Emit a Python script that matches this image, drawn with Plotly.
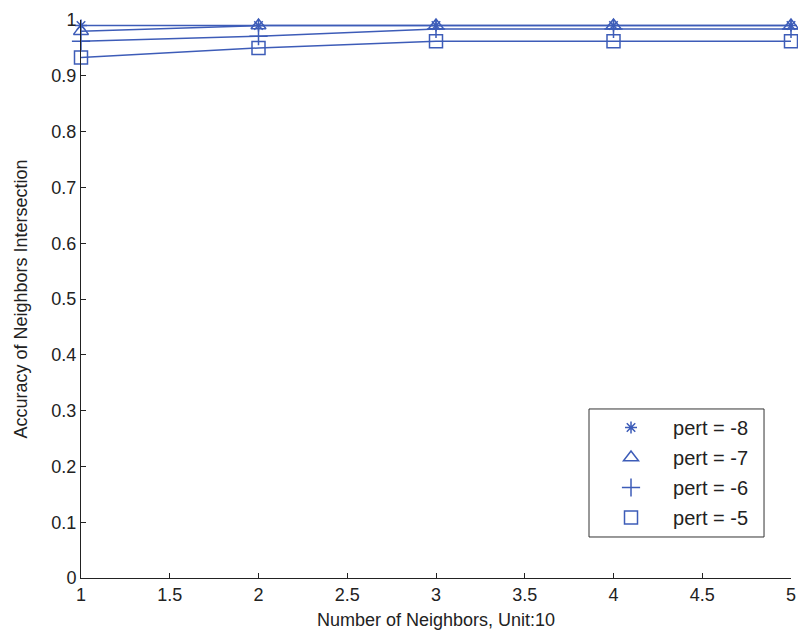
import plotly.graph_objects as go

neighbors = [1, 2, 3, 4, 5]
pert_m8 = [0.99, 0.99, 0.99, 0.99, 0.99]
pert_m7 = [0.98, 0.99, 0.99, 0.99, 0.99]
pert_m6 = [0.962, 0.971, 0.984, 0.984, 0.984]
pert_m5 = [0.933, 0.95, 0.962, 0.962, 0.962]

names = ["pert = -8", "pert = -7", "pert = -6", "pert = -5"]
series = [pert_m8, pert_m7, pert_m6, pert_m5]
symbols = ["asterisk-open", "triangle-up-open", "cross-thin-open", "square-open"]
sizes = [10, 13, 13, 13]

x_ticks = [1, 1.5, 2, 2.5, 3, 3.5, 4, 4.5, 5]
x_ticklabels = ["1", "1.5", "2", "2.5", "3", "3.5", "4", "4.5", "5"]
y_ticks = [0, 0.1, 0.2, 0.3, 0.4, 0.5, 0.6, 0.7, 0.8, 0.9, 1]
y_ticklabels = ["0", "0.1", "0.2", "0.3", "0.4", "0.5", "0.6", "0.7", "0.8", "0.9", "1"]

color = "#3d5cb8"
fig = go.Figure()
for name, ys, sym, sz in zip(names, series, symbols, sizes):
    fig.add_trace(go.Scatter(
        x=neighbors, y=ys, mode="lines+markers", name=name, showlegend=False,
        line=dict(color=color, width=1.5),
        marker=dict(symbol=sym, size=sz, color=color, line=dict(color=color, width=1.5)),
        cliponaxis=False,
    ))
for i, (name, sym, sz) in enumerate(zip(names, symbols, sizes)):
    fig.add_trace(go.Scatter(
        x=[None], y=[None], mode="markers", name=name, legendgroup=f"g{i}",
        marker=dict(symbol=sym, size=sz, color=color, line=dict(color=color, width=1.5)),
    ))

# legend frame
fig.add_shape(type="rect", xref="paper", yref="paper",
              x0=0.7155, x1=0.962, y0=0.0735, y1=0.3029,
              fillcolor="white", line=dict(color="#333", width=1), layer="above")

font = "Liberation Sans, Arial, sans-serif"
fig.update_layout(
    width=798, height=639,
    margin=dict(l=81, r=7, t=20, b=61, autoexpand=False),
    paper_bgcolor="white", plot_bgcolor="white",
    font=dict(family=font, size=18, color="#222"),
    showlegend=True,
    legend=dict(
        x=0.7155, y=0.0735, xanchor="left", yanchor="bottom",
        bgcolor="rgba(0,0,0,0)", borderwidth=0,
        font=dict(size=20, color="#222"), tracegroupgap=1,
        itemwidth=74,
    ),
    xaxis=dict(
        range=[1, 5], tickmode="array", tickvals=x_ticks, ticktext=x_ticklabels,
        showgrid=False, zeroline=False, showline=True, linecolor="#222", linewidth=1,
        ticks="inside", ticklen=5, tickcolor="#222", mirror=False, automargin=False,
        tickfont=dict(size=18), ticklabeloverflow="allow",
        title=dict(text="Number of Neighbors, Unit:10", standoff=9, font=dict(size=18)),
    ),
    yaxis=dict(
        range=[0, 1], tickmode="array", tickvals=y_ticks, ticktext=y_ticklabels,
        showgrid=False, zeroline=False, showline=True, linecolor="#222", linewidth=1,
        ticks="inside", ticklen=5, tickcolor="#222", mirror=False, automargin=False,
        tickfont=dict(size=18), ticklabeloverflow="allow",
        title=dict(text="Accuracy of Neighbors Intersection", standoff=19, font=dict(size=18)),
    ),
)
fig.write_html("out.html", config={"displayModeBar": False},
               post_script="document.body.style.margin='0';")
